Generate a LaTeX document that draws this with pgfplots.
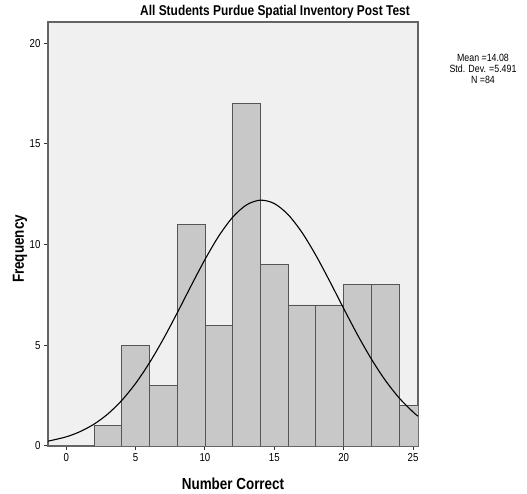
\documentclass[border=0pt]{standalone}
\usepackage{pgfplots}
\pgfplotsset{compat=1.18}
\usepackage{fontspec}
\setmainfont{Liberation Sans}
\newfontfamily\narrow[FakeStretch=0.84]{Liberation Sans}
\definecolor{bg}{RGB}{240,240,240}
\definecolor{barfill}{RGB}{200,200,200}
\definecolor{edge}{RGB}{85,85,85}
\definecolor{frame}{RGB}{100,100,100}
\begin{document}
\begin{tikzpicture}[x=1pt,y=1pt]
\useasboundingbox (0,0) rectangle (527,494);
\begin{axis}[
  at={(48pt,48pt)}, anchor=south west,
  scale only axis, width=370pt, height=424pt,
  xmin=-1.32, xmax=25.36, ymin=0, ymax=21.05,
  axis background/.style={fill=bg},
  axis line style={draw=frame, line width=1.2pt},
  tick pos=left, tick align=outside,
  major tick length=4pt,
  tick style={draw=black!80, line width=1pt},
  xtick={0,5,10,15,20,25}, ytick={0,5,10,15,20},
  /pgf/number format/assume math mode=true,
  tick label style={font=\narrow\fontsize{11.5}{13}\selectfont},
  clip=true,
]
\addplot[ybar interval, fill=barfill, draw=edge, line width=0.9pt] coordinates {
(2,1) (4,5) (6,3) (8,11) (10,6) (12,17) (14,9) (16,7) (18,7) (20,8) (22,8) (24,2) (26,2)
};
\addplot[smooth, black, line width=1.1pt, mark=none] coordinates {
(-1.32,0.239) (0,0.456) (1,0.716) (2,1.085) (3,1.593) (4,2.263) (5,3.110) (6,4.134)
(7,5.316) (8,6.612) (9,7.956) (10,9.261) (11,10.429) (12,11.361) (13,11.972) (14,12.205)
(15,12.036) (16,11.482) (17,10.596) (18,9.461) (19,8.171) (20,6.827) (21,5.517) (22,4.314)
(23,3.263) (24,2.386) (25,1.689) (25.36,1.480)
};
\end{axis}
\node[font=\narrow\bfseries\fontsize{14.2}{16}\selectfont] at (275,482) {All Students Purdue Spatial Inventory Post Test};
\node[font=\narrow\bfseries\fontsize{16}{18}\selectfont] at (233,10) {Number Correct};
\node[font=\narrow\bfseries\fontsize{16}{18}\selectfont, rotate=90] at (20,245) {Frequency};
\node[font=\narrow\fontsize{10.5}{11}\selectfont, align=center, inner sep=0pt] at (483,425) {Mean =14.08\\Std. Dev. =5.491\\N =84};
\end{tikzpicture}
\end{document}
